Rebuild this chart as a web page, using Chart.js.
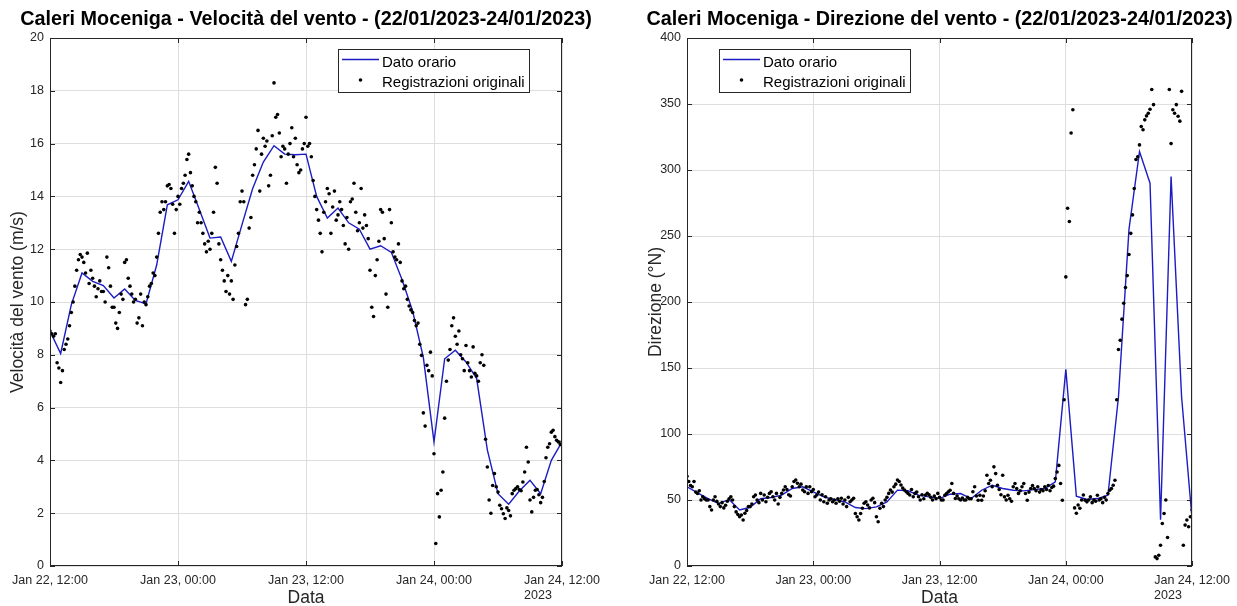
<!DOCTYPE html>
<html>
<head>
<meta charset="utf-8">
<script src="https://cdn.jsdelivr.net/npm/chart.js@4.4.0/dist/chart.umd.min.js"></script>
<style>
  html, body { margin: 0; padding: 0; background: #fff; }
  #wrap { position: relative; width: 1237px; height: 606px; overflow: hidden; }
  #speedChart { position: absolute; left: 0; top: 0; }
  #dirChart { position: absolute; left: 618px; top: 0; }
</style>
</head>
<body>
<div id="wrap">
  <canvas id="speedChart" width="618" height="606"></canvas>
  <canvas id="dirChart" width="619" height="606"></canvas>
</div>
<script>
// Time axis: hours from 22/01/2023 12:00
const xTickLabels = ['Jan 22, 12:00', 'Jan 23, 00:00', 'Jan 23, 12:00', 'Jan 24, 00:00', 'Jan 24, 12:00'];
const yearLabel = '2023';

// Hourly values (one per hour, 0..48)
const hourlySpeed = [
  8.9, 8.05, 9.9, 11.1, 10.78, 10.62, 10.15, 10.49, 10.06, 9.93,
  11.4, 13.68, 13.87, 14.57, 13.5, 12.42, 12.46, 11.54, 12.93, 14.3,
  15.3, 15.92, 15.6, 15.58, 15.6, 14.0, 13.18, 13.56, 13.0, 12.76,
  12.0, 12.13, 11.88, 10.85, 9.65, 7.9, 4.7, 7.85, 8.17, 7.73,
  7.1, 4.4, 2.74, 2.34, 2.84, 3.25, 2.74, 4.0, 4.7
];
const hourlyDirection = [
  60, 55.4, 51.1, 47.3, 50.4, 42.5, 44.5, 51, 51.9, 53.7,
  58.7, 60, 56.2, 52.4, 50.4, 48.6, 44.3, 43.5, 44.8, 48.6,
  57.5, 57, 53.7, 52.4, 51.1, 54.4, 54.9, 51.1, 57.4, 61.2,
  58.7, 57.4, 56.9, 57.9, 58.7, 63.7, 149, 52.9, 50.4, 51.1,
  53.6, 128, 255, 314, 290, 35, 295, 128, 35
];

// Original 10-minute recordings (six per hour, plus the closing sample)
const recordedSpeed = [
  8.9, 8.8, 8.7, 8.8, 7.7, 7.5,
  6.95, 7.4, 8.2, 8.4, 8.6, 9.1,
  9.6, 10.0, 10.6, 11.2, 11.6, 11.8,
  11.7, 11.5, 11.1, 11.85, 10.7, 11.2,
  10.9, 10.6, 10.2, 10.5, 10.8, 10.4,
  10.4, 10.0, 11.7, 11.3, 10.6, 9.8,
  9.8, 9.2, 9.0, 9.6, 10.3, 10.1,
  11.5, 11.6, 10.9, 10.6, 10.3, 10.0,
  10.1, 9.2, 9.4, 10.3, 9.1, 10.0,
  9.9, 10.2, 10.6, 10.7, 11.1, 11.0,
  11.7, 12.6, 13.4, 13.8, 13.5, 13.8,
  14.4, 14.45, 14.3, 13.7, 12.6, 13.5,
  14.0, 13.7, 14.3, 14.5, 14.8, 15.4,
  15.6, 14.9, 14.4, 14.0, 13.8, 13.0,
  13.4, 13.0, 12.6, 12.2, 11.9, 12.3,
  12.0, 12.6, 13.4, 15.1, 14.5, 12.2,
  11.6, 11.2, 10.8, 10.4, 11.0, 10.3,
  10.8, 10.1, 11.4, 12.1, 12.6, 13.8,
  14.2, 13.8, 9.9, 10.1, 12.8, 13.2,
  14.8, 15.2, 15.8, 16.5, 14.2, 15.6,
  16.2, 15.9, 16.1, 14.4, 14.8, 16.3,
  18.3, 17.0, 17.1, 16.4, 15.5, 15.9,
  15.8, 14.5, 15.6, 16.0, 16.6, 15.5,
  16.2, 15.2, 14.9, 15.0, 15.8, 16.0,
  17.0, 15.9, 16.0, 15.5, 14.6, 14.0,
  13.5, 13.1, 12.6, 11.9, 13.4, 13.8,
  14.3, 14.1, 12.6, 13.6, 14.2, 13.1,
  13.3, 13.8, 13.5, 12.9, 12.2, 13.2,
  12.0, 13.8, 13.9, 14.5, 13.4, 12.7,
  13.0, 14.3, 12.8, 13.3, 12.9, 12.4,
  11.2, 9.8, 9.45, 11.0, 11.6, 12.3,
  13.5, 13.4, 12.4, 10.3, 9.8, 13.5,
  13.0, 11.9, 11.7, 11.6, 12.2, 11.5,
  10.8, 10.5, 10.6, 10.1, 9.85, 9.7,
  9.6, 9.3, 9.1, 9.2, 8.4, 7.98,
  5.8, 5.3, 7.6, 7.4, 8.1, 7.2,
  4.25, 0.85, 2.74, 1.86, 2.87, 3.56,
  5.6, 7.0, 7.8, 8.2, 9.1, 9.4,
  8.7, 8.4, 8.9, 8.0, 7.85, 7.4,
  8.35, 7.7, 7.4, 7.16, 8.3, 7.3,
  7.2, 7.0, 7.7, 8.0, 7.6, 4.8,
  3.75, 2.5, 2.0, 3.05, 3.5, 3.0,
  2.8, 2.3, 2.17, 1.98, 1.8, 2.2,
  2.1, 1.9, 2.74, 2.87, 2.93, 3.0,
  2.9, 2.85, 3.18, 3.56, 4.5, 3.94,
  2.5, 2.05, 2.6, 2.87, 2.9, 2.7,
  2.4, 2.6, 3.2, 4.1, 4.5, 4.63,
  5.07, 5.14, 4.9, 4.76, 4.7, 4.6,
  4.7
];
const recordedDirection = [
  68, 64, 61, 60, 64, 56,
  55, 57, 50, 52.5, 51, 50,
  50, 45, 42.4, 50, 52.5, 49,
  47, 45, 48, 44, 46, 49,
  51, 52.5, 50, 45, 41, 39,
  37.3, 38.6, 34.8, 40, 42, 45,
  45, 47, 52.5, 53.8, 50, 48,
  55, 50, 53.8, 48.7, 52, 55,
  56.3, 52.5, 50, 55, 47, 52,
  55, 57.6, 60, 58, 54, 53,
  60, 64, 65.2, 62.7, 60, 62,
  57.6, 56.3, 60, 55, 60, 56.3,
  58, 52.5, 53.8, 56, 50, 54,
  48.7, 52.5, 47.5, 50, 51, 48.7,
  50, 47.5, 51, 49, 51.3, 47,
  50, 45, 52, 48.7, 50, 51.3,
  39.8, 37.3, 34.8, 39.8, 43.7, 47.5,
  48.7, 46.2, 44, 50, 51.3, 48,
  37.3, 33.5, 43.7, 47.5, 45, 50,
  52, 55, 57.6, 56, 60, 62,
  65.2, 64, 61.4, 59, 57.6, 56.3,
  55, 53.8, 58, 52.5, 55, 56,
  52.5, 50, 54, 51, 53.8, 55,
  54, 52, 50, 53, 51, 55,
  52, 50, 50, 53.6, 54.9, 56.2,
  57.4, 62.5, 55, 51.1, 53, 51,
  50, 51.5, 50, 50, 52, 51,
  51, 56.2, 60, 53, 49.8, 53.6,
  49.8, 53, 57, 68.8, 62.5, 65,
  60, 75.1, 70, 61.2, 58, 54,
  68.8, 52.4, 50, 53.6, 51, 49,
  60, 62.5, 58.7, 55, 57, 60,
  62.5, 54.9, 49.8, 56, 58.7, 61,
  58.7, 57, 60, 56, 58, 57,
  60, 58, 61, 57, 59.5, 60.5,
  66.2, 71.2, 76.2, 62.5, 49.8, 126,
  219, 271, 261, 328, 345.7, 44,
  40, 46.2, 43.7, 50, 53.8, 49.8,
  48.6, 50, 52.4, 48, 50, 49,
  53.6, 50, 51, 48, 52, 50,
  54.9, 57.4, 58.7, 61.2, 65, 126,
  164, 171, 187, 199, 211, 220,
  236, 252, 266, 286, 308, 310,
  319, 333, 330.5, 338, 341, 343,
  346, 361, 349.5, 6.9, 5.6, 8.1,
  15.7, 32.2, 39.8, 50, 21.6, 361,
  320, 345.7, 343, 349.5, 340.7, 337,
  359.6, 15.7, 31, 34.8, 29.7, 37.3,
  42.4
];

const FONT = '"Liberation Sans", Arial, Helvetica, sans-serif';
const AXIS_COLOR = '#262626';
const GRID_COLOR = '#dedede';
const LINE_COLOR = '#1c1cc4';

const hourlyPoints = arr => arr.map((v, i) => ({ x: i, y: v }));
const recordPoints = arr => arr.map((v, i) => ({ x: i / 6, y: v }));

// Axes box, inward tick marks, titles and legend, drawn over the plot
const axesDecor = {
  id: 'axesDecor',
  afterDraw(chart, args, o) {
    const { ctx, chartArea: a, scales } = chart;
    const L = Math.round(a.left), R = Math.round(a.right);
    const T = Math.round(a.top), B = Math.round(a.bottom);
    ctx.save();

    // box
    ctx.strokeStyle = AXIS_COLOR;
    ctx.lineWidth = 1;
    ctx.strokeRect(L + 0.5, T + 0.5, R - L - 1, B - T - 1);

    // inward ticks
    const tl = 5;
    ctx.beginPath();
    scales.x.ticks.forEach(t => {
      const px = Math.round(scales.x.getPixelForValue(t.value)) + 0.5;
      ctx.moveTo(px, B); ctx.lineTo(px, B - tl);
      ctx.moveTo(px, T); ctx.lineTo(px, T + tl);
    });
    scales.y.ticks.forEach(t => {
      const py = Math.round(scales.y.getPixelForValue(t.value)) + 0.5;
      ctx.moveTo(L, py); ctx.lineTo(L + tl, py);
      ctx.moveTo(R, py); ctx.lineTo(R - tl, py);
    });
    ctx.stroke();

    const cx = (L + R) / 2;
    const cy = (T + B) / 2;

    // title
    ctx.fillStyle = '#000';
    ctx.font = 'bold 19.8px ' + FONT;
    ctx.textAlign = 'center';
    ctx.textBaseline = 'middle';
    ctx.fillText(o.title, cx, 20);

    // x title
    ctx.fillStyle = AXIS_COLOR;
    ctx.font = '17.5px ' + FONT;
    ctx.fillText(o.xTitle, cx, 598);

    // y title
    ctx.save();
    ctx.translate(o.yTitleX, cy);
    ctx.rotate(-Math.PI / 2);
    ctx.fillText(o.yTitle, 0, 0);
    ctx.restore();

    // year under the last tick label
    ctx.font = '12.5px ' + FONT;
    ctx.textAlign = 'left';
    const lastLabel = xTickLabels[xTickLabels.length - 1];
    const lw = ctx.measureText(lastLabel).width;
    ctx.fillText(yearLabel, R - lw / 2, 596);

    // legend
    const g = o.legend;
    ctx.fillStyle = '#fff';
    ctx.fillRect(g.x, g.y, g.w, g.h);
    ctx.strokeStyle = AXIS_COLOR;
    ctx.strokeRect(g.x + 0.5, g.y + 0.5, g.w, g.h);
    ctx.strokeStyle = LINE_COLOR;
    ctx.lineWidth = 1.5;
    ctx.beginPath();
    ctx.moveTo(g.x + 4, g.y + 10.5);
    ctx.lineTo(g.x + 41, g.y + 10.5);
    ctx.stroke();
    ctx.fillStyle = '#000';
    ctx.beginPath();
    ctx.arc(g.x + 22.5, g.y + 31, 1.8, 0, Math.PI * 2);
    ctx.fill();
    ctx.fillStyle = '#000';
    ctx.font = '15px ' + FONT;
    ctx.textAlign = 'left';
    ctx.textBaseline = 'middle';
    ctx.fillText(o.lineLabel, g.x + 44, g.y + 13.5);
    ctx.fillText(o.dotLabel, g.x + 44, g.y + 33.5);

    ctx.restore();
  }
};

function buildChart(canvasId, p) {
  return new Chart(document.getElementById(canvasId), {
    type: 'scatter',
    data: {
      datasets: [
        {
          label: 'Registrazioni originali',
          data: recordPoints(p.records),
          pointRadius: 1.8,
          pointBackgroundColor: '#000',
          pointBorderWidth: 0,
          showLine: false
        },
        {
          label: 'Dato orario',
          data: hourlyPoints(p.hourly),
          showLine: true,
          borderColor: LINE_COLOR,
          borderWidth: 1.4,
          pointRadius: 0,
          tension: 0
        }
      ]
    },
    options: {
      responsive: false,
      animation: false,
      events: [],
      layout: { padding: p.padding },
      plugins: {
        legend: { display: false },
        tooltip: { enabled: false },
        axesDecor: p.decor
      },
      scales: {
        x: {
          type: 'linear',
          min: 0, max: 48,
          afterFit: s => { s.height = 40; },
          afterBuildTicks: s => { s.ticks = xTickLabels.map((_, i) => ({ value: i * 12 })); },
          ticks: {
            callback: v => xTickLabels[Math.round(v / 12)],
            font: { family: FONT, size: 12.5 },
            color: AXIS_COLOR,
            padding: 7,
            maxRotation: 0,
            autoSkip: false
          },
          grid: { color: GRID_COLOR, drawTicks: false },
          border: { display: false }
        },
        y: {
          min: 0, max: p.yMax,
          afterFit: s => { s.width = p.yWidth; },
          ticks: {
            stepSize: p.yStep,
            font: { family: FONT, size: 12.5 },
            color: AXIS_COLOR,
            padding: 6
          },
          grid: { color: GRID_COLOR, drawTicks: false },
          border: { display: false }
        }
      }
    },
    plugins: [axesDecor]
  });
}

buildChart('speedChart', {
  hourly: hourlySpeed,
  records: recordedSpeed,
  yMax: 20, yStep: 2, yWidth: 40,
  padding: { left: 10, right: 56, top: 38, bottom: 0 },
  decor: {
    title: 'Caleri Moceniga - Velocità del vento - (22/01/2023-24/01/2023)',
    xTitle: 'Data',
    yTitle: 'Velocità del vento (m/s)',
    yTitleX: 18,
    lineLabel: 'Dato orario',
    dotLabel: 'Registrazioni originali',
    legend: { x: 338, y: 49, w: 191, h: 43 }
  }
});

buildChart('dirChart', {
  hourly: hourlyDirection,
  records: recordedDirection,
  yMax: 400, yStep: 50, yWidth: 45,
  padding: { left: 24, right: 39, top: 38, bottom: 0 },
  decor: {
    title: 'Caleri Moceniga - Direzione del vento - (22/01/2023-24/01/2023)',
    xTitle: 'Data',
    yTitle: 'Direzione (°N)',
    yTitleX: 38,
    lineLabel: 'Dato orario',
    dotLabel: 'Registrazioni originali',
    legend: { x: 101, y: 49, w: 191, h: 43 }
  }
});
</script>
</body>
</html>
